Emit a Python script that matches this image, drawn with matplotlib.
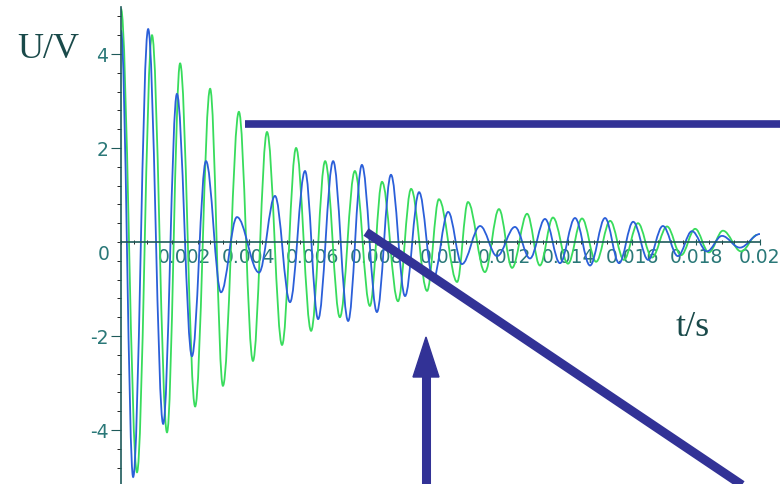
import numpy as np
import matplotlib
matplotlib.use("Agg")
import matplotlib.pyplot as plt
from matplotlib.lines import Line2D
from matplotlib.patches import Polygon, PathPatch
from matplotlib.path import Path
from matplotlib.ticker import MultipleLocator

plt.rcParams["axes.unicode_minus"] = False

# ===== DATA (extrema of each trace) =====
t_blue = [0.0, 0.00038, 0.00085, 0.00132, 0.00175, 0.00222, 0.00266, 0.00313,
          0.00363, 0.00432, 0.00482, 0.00529, 0.00576, 0.00617, 0.00664,
          0.00711, 0.00754, 0.00801, 0.00845, 0.00889, 0.00933, 0.00977,
          0.01024, 0.01067, 0.01124, 0.01177, 0.01233, 0.01280, 0.01327,
          0.01374, 0.01421, 0.01468, 0.01515, 0.01559, 0.01603, 0.01650,
          0.01696, 0.01743, 0.01787, 0.01834, 0.01881, 0.01937, 0.02000]
u_blue = [4.5, -5.0, 4.53, -3.87, 3.15, -2.43, 1.72, -1.07,
          0.53, -0.65, 0.98, -1.28, 1.51, -1.64, 1.72,
          -1.68, 1.64, -1.49, 1.43, -1.15, 1.06, -0.79,
          0.64, -0.47, 0.34, -0.30, 0.32, -0.35, 0.49,
          -0.45, 0.51, -0.50, 0.51, -0.45, 0.43, -0.38,
          0.34, -0.30, 0.23, -0.20, 0.13, -0.12, 0.17]

t_green = [0.0, 0.00050, 0.00097, 0.00144, 0.00185, 0.00232, 0.00279, 0.00319,
           0.00369, 0.00413, 0.00457, 0.00504, 0.00548, 0.00595, 0.00639,
           0.00685, 0.00732, 0.00779, 0.00817, 0.00867, 0.00908, 0.00958,
           0.00995, 0.01052, 0.01086, 0.01139, 0.01183, 0.01224, 0.01271,
           0.01311, 0.01352, 0.01399, 0.01443, 0.01487, 0.01531, 0.01574,
           0.01618, 0.01662, 0.01709, 0.01753, 0.01797, 0.01840, 0.01884,
           0.01941, 0.01991]
u_green = [4.96, -4.9, 4.4, -4.05, 3.8, -3.5, 3.26, -3.06,
           2.77, -2.53, 2.34, -2.19, 2.0, -1.89, 1.72,
           -1.6, 1.51, -1.36, 1.28, -1.26, 1.13, -1.04,
           0.91, -0.85, 0.85, -0.64, 0.70, -0.55, 0.60,
           -0.50, 0.52, -0.46, 0.50, -0.42, 0.45, -0.38,
           0.40, -0.33, 0.33, -0.28, 0.28, -0.22, 0.24,
           -0.20, 0.15]

x_ticks = [0.002, 0.004, 0.006, 0.008, 0.01, 0.012, 0.014, 0.016, 0.018, 0.02]
x_ticklabels = ["0.002", "0.004", "0.006", "0.008", "0.01",
                "0.012", "0.014", "0.016", "0.018", "0.02"]
y_ticks = [-4, -2, 2, 4]
# ==============================================================

W, H = 780, 485
AXIS_COL = "#1e5a5a"
LABEL_COL = "#2a7878"
NAVY = "#323296"


def px(x, y):
    # figure pixel (origin top-left) -> figure fraction
    return x / W, 1 - y / H


def wave_path(t, u):
    # smooth curve through the extrema: flat tangent at every peak/trough
    verts = [(t[0], u[0])]
    codes = [Path.MOVETO]
    for i in range(1, len(t)):
        dt = t[i] - t[i - 1]
        verts += [(t[i - 1] + 0.363 * dt, u[i - 1]),
                  (t[i] - 0.363 * dt, u[i]),
                  (t[i], u[i])]
        codes += [Path.CURVE4] * 3
    return Path(verts, codes)


fig = plt.figure(figsize=(W / 100, H / 100), dpi=100)
left, top = px(121, 8)
right, _ = px(760, 0)
ax = fig.add_axes([left, top - 479.4 / H, right - left, 479.4 / H])
ax.set_xlim(0, 0.02)
ax.set_ylim(-5.2, 5.0)
ax.patch.set_alpha(0)

ax.add_patch(PathPatch(wave_path(t_green, u_green), fill=False,
                       edgecolor="#38dc5c", lw=1.3, zorder=3))
ax.add_patch(PathPatch(wave_path(t_blue, u_blue), fill=False,
                       edgecolor="#2b5fd9", lw=1.3, zorder=4))

for s in ("top", "right"):
    ax.spines[s].set_visible(False)
ax.spines["bottom"].set_position(("data", 0))
for s in ("left", "bottom"):
    ax.spines[s].set_color(AXIS_COL)
    ax.spines[s].set_linewidth(1.2)
    ax.spines[s].set_zorder(5)

ax.set_xticks(x_ticks)
ax.set_xticklabels(x_ticklabels)
ax.xaxis.set_minor_locator(MultipleLocator(0.0004))
ax.set_yticks(y_ticks)
ax.yaxis.set_minor_locator(MultipleLocator(0.4))
ax.tick_params(axis="both", colors=AXIS_COL, labelcolor=LABEL_COL,
               labelsize=13.5)
ax.tick_params(axis="x", which="major", direction="inout", length=5, pad=1)
ax.tick_params(axis="x", which="minor", direction="inout", length=3)
ax.tick_params(axis="y", which="major", direction="out", length=7, pad=2)
ax.tick_params(axis="y", which="minor", direction="out", length=3)
ax.text(-0.00035, -0.05, "0", ha="right", va="top", fontsize=13.5,
        color=LABEL_COL)

# axis titles
fig.text(*px(48, 50), "U/V", fontsize=26, family="Liberation Serif",
         color="#1a4a4a", ha="center", va="center")
fig.text(*px(693, 327), "t/s", fontsize=26, family="Liberation Serif",
         color="#1a4a4a", ha="center", va="center")

# overlaid annotation strokes
fig.add_artist(Line2D([px(245, 125)[0], px(780, 125)[0]],
                      [px(245, 125)[1], px(780, 125)[1]],
                      color=NAVY, lw=5.5, solid_capstyle="butt"))
fig.add_artist(Line2D([px(366, 233)[0], px(745, 488)[0]],
                      [px(366, 233)[1], px(745, 488)[1]],
                      color=NAVY, lw=6.5, solid_capstyle="butt"))
fig.add_artist(Line2D([px(426, 372)[0], px(426, 490)[0]],
                      [px(426, 372)[1], px(426, 490)[1]],
                      color=NAVY, lw=6.5, solid_capstyle="butt"))
fig.add_artist(Polygon([px(426, 338), px(413, 378), px(439, 378)],
                       closed=True, color=NAVY, transform=fig.transFigure))

fig.savefig("out.png", dpi=100)
